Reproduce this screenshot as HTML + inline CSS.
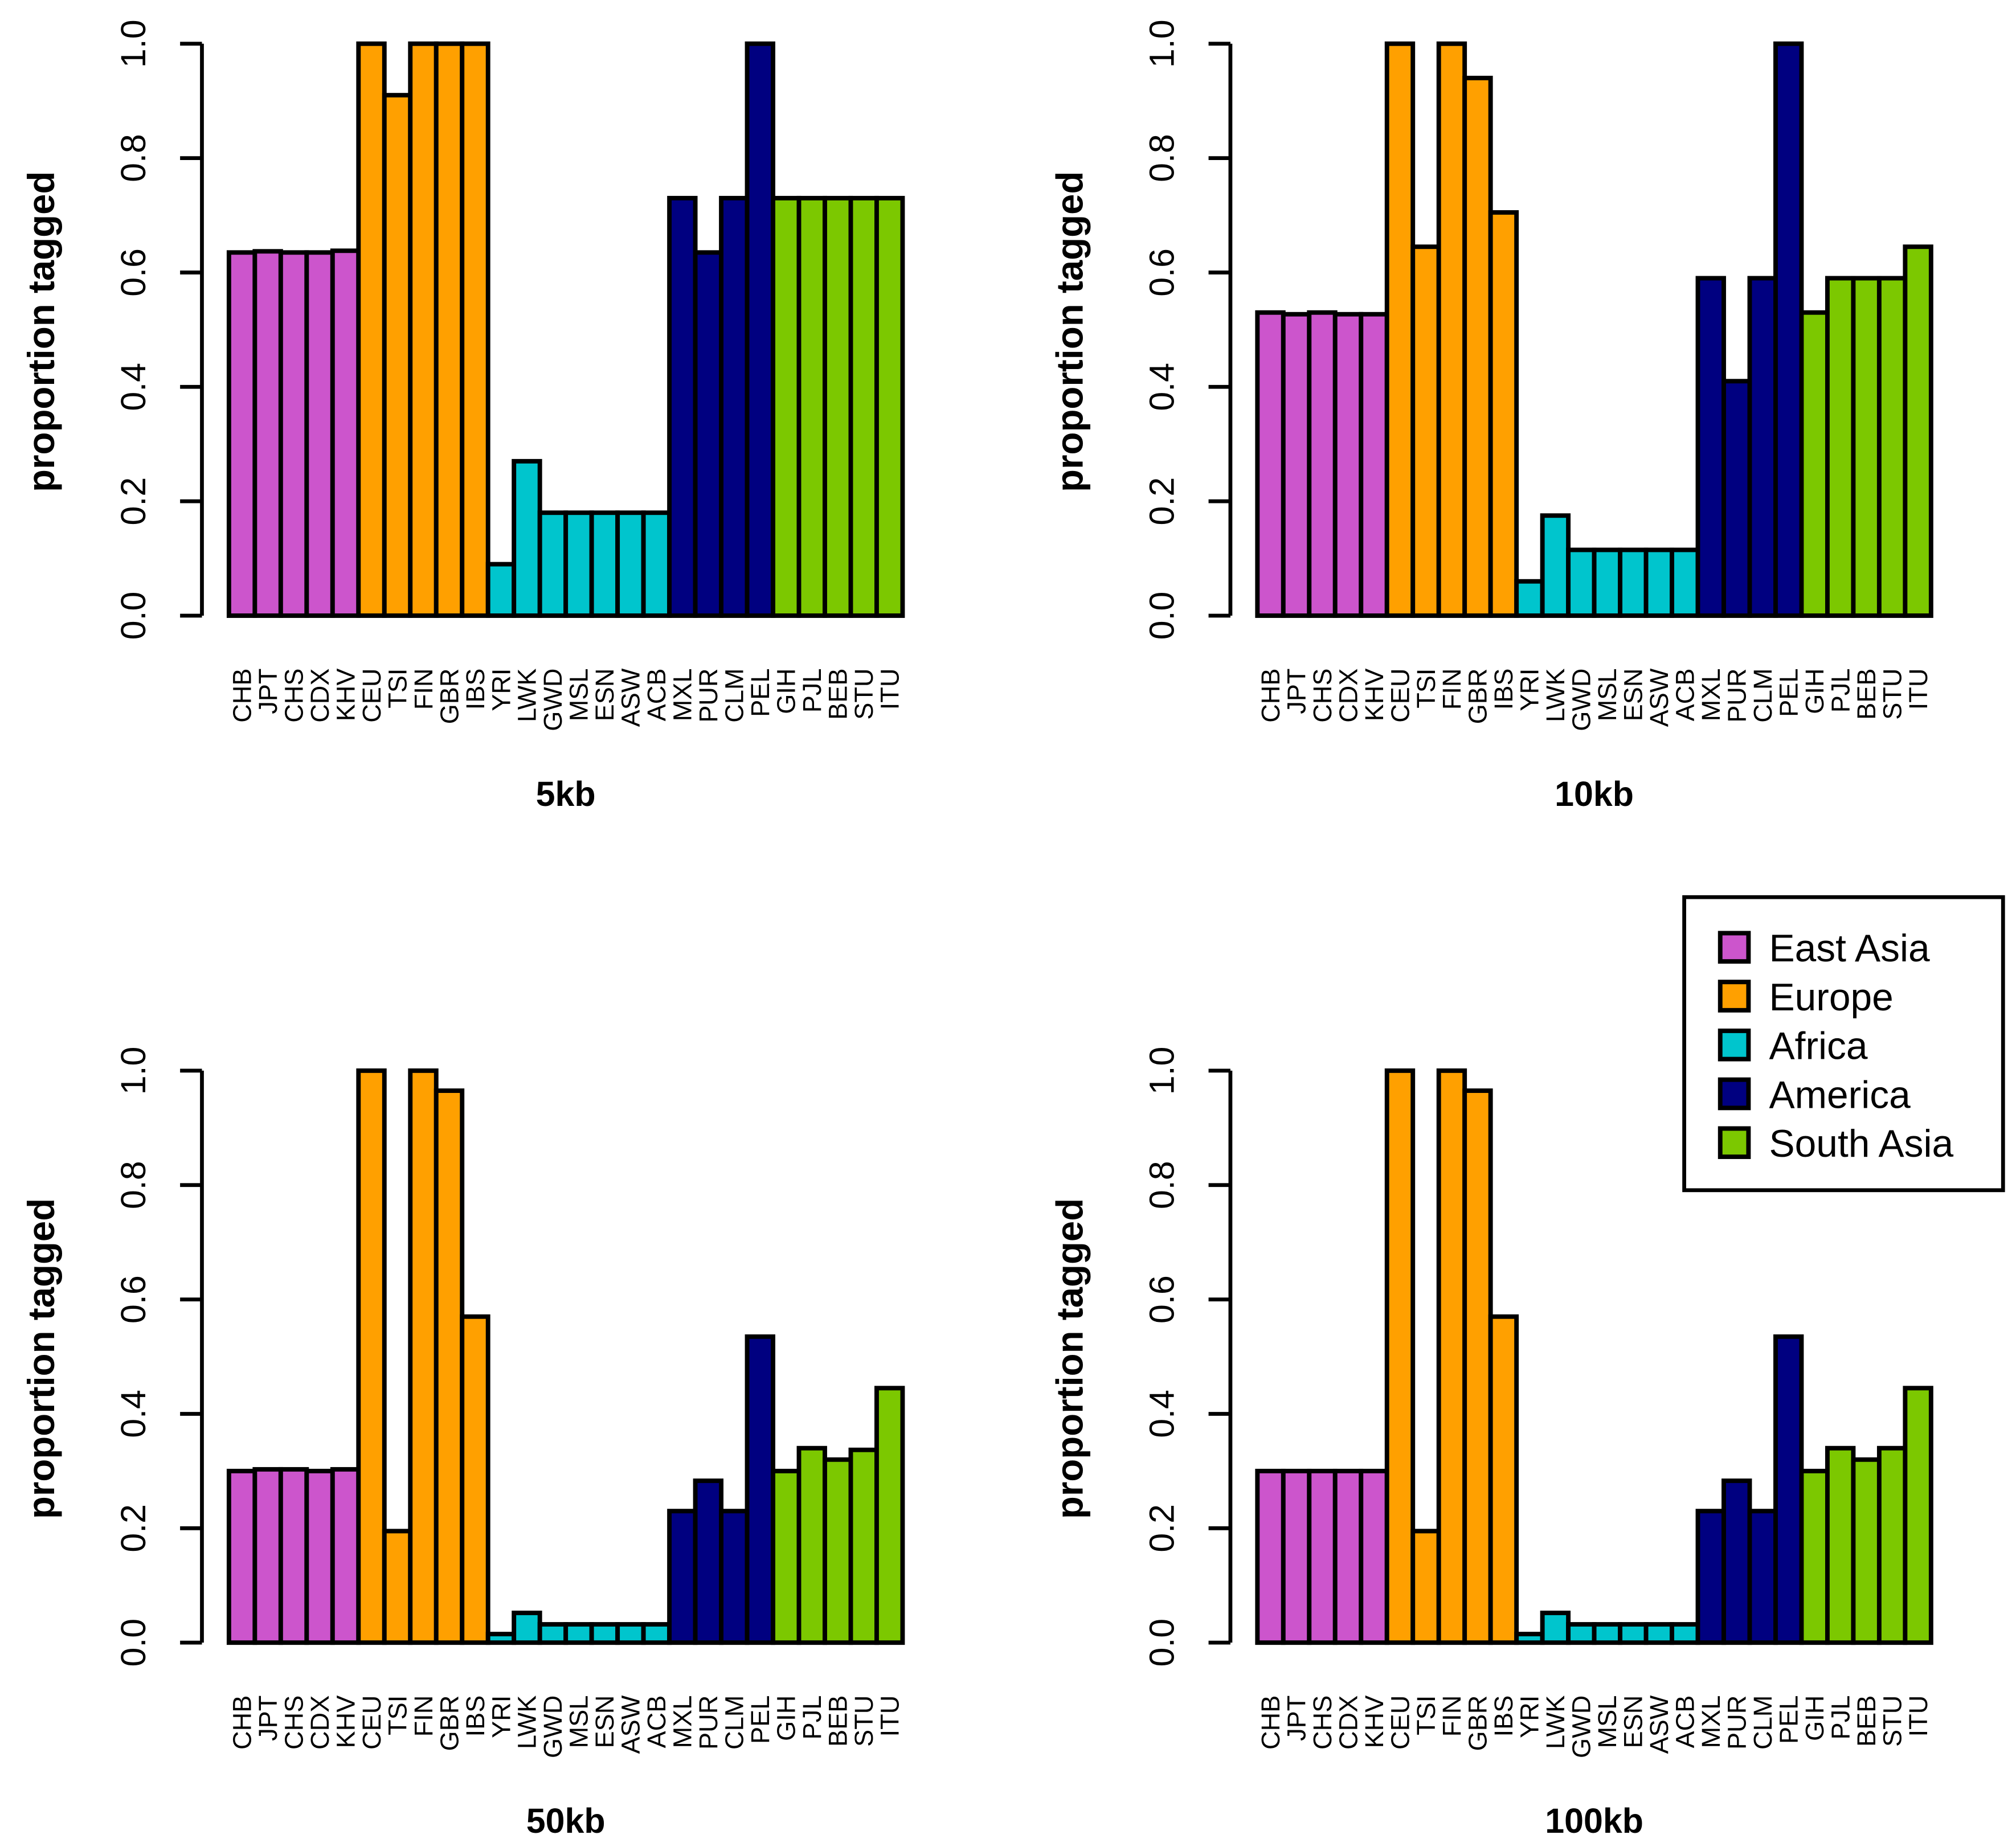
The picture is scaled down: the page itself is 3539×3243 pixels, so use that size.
<!DOCTYPE html>
<html><head><meta charset="utf-8"><style>html,body{margin:0;padding:0;background:#fff}svg{display:block}</style></head>
<body>
<svg id="fig" width="3539" height="3243" viewBox="0 0 1568 1437" xmlns="http://www.w3.org/2000/svg" font-family="Liberation Sans, Arial, sans-serif"></svg>
<script>
const categories = ["CHB","JPT","CHS","CDX","KHV","CEU","TSI","FIN","GBR","IBS","YRI","LWK","GWD","MSL","ESN","ASW","ACB","MXL","PUR","CLM","PEL","GIH","PJL","BEB","STU","ITU"];
const regions = ["EA","EA","EA","EA","EA","EU","EU","EU","EU","EU","AF","AF","AF","AF","AF","AF","AF","AM","AM","AM","AM","SA","SA","SA","SA","SA"];
const legendLabels = ["East Asia","Europe","Africa","America","South Asia"];
const yTicks = [0,0.2,0.4,0.6,0.8,1.0];
const yTickLabels = ["0.0","0.2","0.4","0.6","0.8","1.0"];
const panelTitles = ["5kb","10kb","50kb","100kb"];
const values5kb = [0.635,0.637,0.635,0.635,0.638, 1,0.91,1,1,1, 0.09,0.27,0.18,0.18,0.18,0.18,0.18, 0.73,0.635,0.73,1, 0.73,0.73,0.73,0.73,0.73];
const values10kb = [0.53,0.527,0.53,0.527,0.527, 1,0.645,1,0.94,0.705, 0.06,0.175,0.115,0.115,0.115,0.115,0.115, 0.59,0.41,0.59,1, 0.53,0.59,0.59,0.59,0.645];
const values50kb = [0.30,0.303,0.303,0.30,0.303, 1,0.195,1,0.965,0.57, 0.015,0.052,0.032,0.032,0.032,0.032,0.032, 0.23,0.283,0.23,0.535, 0.30,0.34,0.32,0.337,0.445];
const values100kb = [0.30,0.30,0.30,0.30,0.30, 1,0.195,1,0.965,0.57, 0.015,0.052,0.032,0.032,0.032,0.032,0.032, 0.23,0.283,0.23,0.535, 0.30,0.34,0.32,0.34,0.445];

const colors = {EA:"#cc55cc",EU:"#ffa000",AF:"#00c5cd",AM:"#000080",SA:"#7cc800"};
const legendKeys = ["EA","EU","AF","AM","SA"];
const NS="http://www.w3.org/2000/svg";
const svg=document.getElementById('fig');
function mk(tag,attrs,parent){const e=document.createElementNS(NS,tag);for(const k in attrs)e.setAttribute(k,attrs[k]);(parent||svg).appendChild(e);return e;}

const allValues=[values5kb,values10kb,values50kb,values100kb];
const offsets=[[0,0],[800,0],[0,799],[800,799]];
allValues.forEach((vals,p)=>{
  const ox=offsets[p][0], oy=offsets[p][1];
  const g=mk('g',{});
  
  
  const x0=178+ox, x1=702+ox, yb=479+oy, yt=34+oy;
  const bw=(x1-x0)/categories.length;
  const yS=v=>yb-(yb-yt)*v;
  const ax=mk('line',{x1:157+ox,x2:157+ox,y1:yS(0),y2:yS(1),stroke:'#000','stroke-width':3},g);
  
  
  yTicks.forEach((t,i)=>{
    const tk=mk('line',{x1:140+ox,x2:157+ox,y1:yS(t),y2:yS(t),stroke:'#000','stroke-width':3},g);
    
    
    const tl=mk('text',{x:0,y:0,'font-size':27,'text-anchor':'middle',transform:`translate(${113+ox},${yS(t)}) rotate(-90)`},g);
    tl.textContent=yTickLabels[i];
    
    
  });
  const yt2=mk('text',{x:0,y:0,'font-size':29,'font-weight':'bold','text-anchor':'middle',transform:`translate(${42+ox},${258+oy}) rotate(-90)`},g);
  yt2.textContent='proportion tagged';
  
  
  vals.forEach((v,i)=>{
    const r=mk('rect',{x:x0+i*bw,y:yS(v),width:bw,height:yS(0)-yS(v),fill:colors[regions[i]],stroke:'#000','stroke-width':3.5},g);
    
    
    const cl=mk('text',{x:0,y:0,'font-size':20,'text-anchor':'end',transform:`translate(${x0+(i+0.5)*bw+7},${520+oy}) rotate(-90)`},g);
    cl.textContent=categories[i];
    
    
  });
  const tt=mk('text',{x:440+ox,y:627+oy,'font-size':27,'font-weight':'bold','text-anchor':'middle'},g);
  tt.textContent=panelTitles[p];
  
  
});
const lg=mk('g',{});


mk('rect',{x:1310,y:698,width:248,height:228,fill:'#fff',stroke:'#000','stroke-width':3},lg);
legendLabels.forEach((l,i)=>{
  const cy=737+i*38;
  const sw=mk('rect',{x:1338,y:cy-11,width:22,height:22,fill:colors[legendKeys[i]],stroke:'#000','stroke-width':3.5},lg);
  
  
  const t=mk('text',{x:1376,y:cy+11,'font-size':30},lg);
  t.textContent=l;
  
  
});
</script>
</body></html>
